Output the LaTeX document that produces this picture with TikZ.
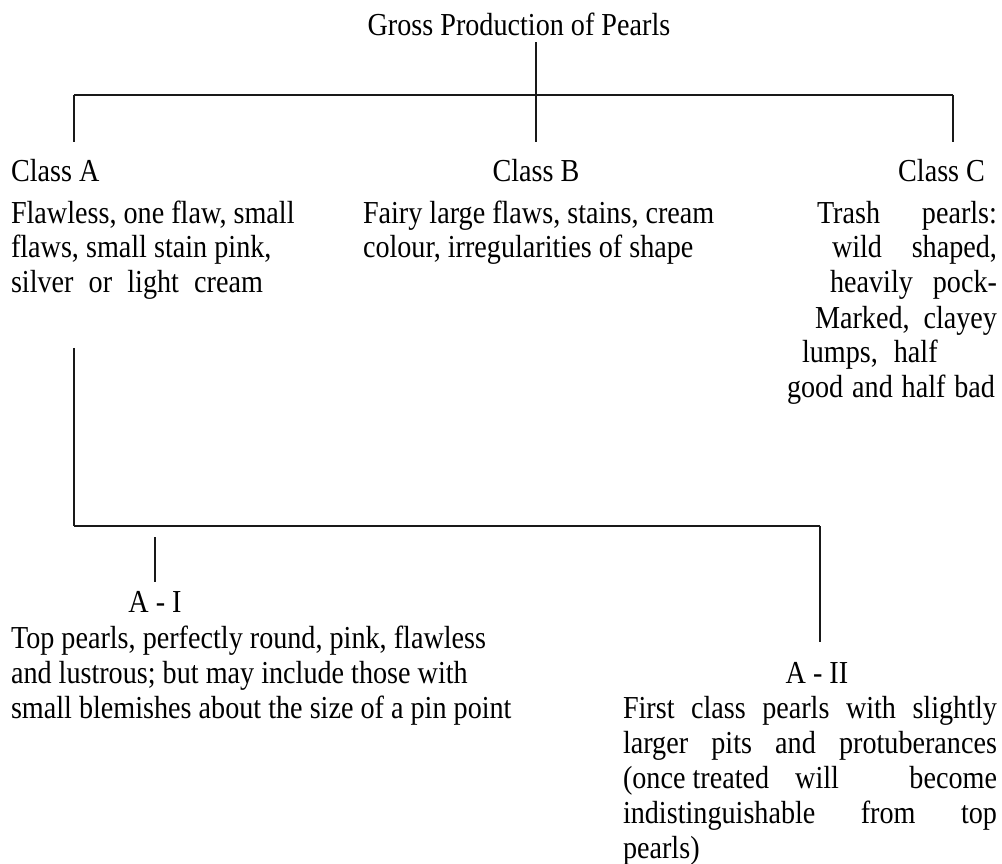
\documentclass[tikz,border=0pt]{standalone}
\usepackage{fontspec}
\setmainfont{Liberation Serif}[FakeStretch=0.88]
% a block of lines; its baseline is that of the first line
\newcommand{\txtblock}[1]{\vtop{\baselineskip=35pt\lineskiplimit=-1000pt\relax #1}}
\begin{document}
\begin{tikzpicture}[x=1pt,y=-1pt,
  every node/.style={inner sep=0pt, outer sep=0pt, font=\fontsize{32pt}{35pt}\selectfont},
  bus/.style={line width=2.6pt, draw=black!90},
  drop/.style={line width=1.8pt, draw=black!90}]
\useasboundingbox[fill=white] (0,0) rectangle (1002,864);

% top level
\node[anchor=base] (title) at (519,36) {Gross Production of Pearls};
\node[anchor=base west] (classA) at (11,182) {Class A};
\node[anchor=base] (classB) at (536,182) {Class B};
\node[anchor=base east] (classC) at (985,182) {Class C};

\node[anchor=base west] (descA) at (11,223) {\txtblock{
  \hbox{Flawless, one flaw, small}
  \hbox{flaws, small stain pink,}
  \hbox to 252pt{silver or light cream}}};
\node[anchor=base west] (descB) at (363,223) {\txtblock{
  \hbox{Fairy large flaws, stains, cream}
  \hbox{colour, irregularities of shape}}};
\node[anchor=base west] (descC) at (787,223) {\txtblock{
  \hbox to 210pt{\hfill\hbox to 180pt{Trash\hfill pearls:}}
  \hbox to 210pt{\hfill\hbox to 165pt{wild\hfill shaped,}}
  \hbox to 210pt{\hfill\hbox to 167pt{heavily\hfill pock-}}
  \hbox to 210pt{\hfill\hbox to 182pt{Marked,\hfill clayey}}
  \hbox to 210pt{\hskip15pt lumps,\hskip16pt half\hfill}
  \hbox to 208pt{good and half bad}}};

% sub-classes of class A
\node[anchor=base] (aI) at (155,612) {A - I};
\node[anchor=base west] (descAI) at (11,648) {\txtblock{
  \hbox{Top pearls, perfectly round, pink, flawless}
  \hbox{and lustrous; but may include those with}
  \hbox{small blemishes about the size of a pin point}}};
\node[anchor=base] (aII) at (817,683) {A - II};
\node[anchor=base west] (descAII) at (623,718) {\txtblock{
  \hbox to 374pt{First class pearls with slightly}
  \hbox to 374pt{larger pits and protuberances}
  \hbox to 374pt{(once treated\hskip26pt will\hfill become}
  \hbox to 374pt{indistinguishable\hfill from\hfill top}
  \hbox{pearls)}}};

% joints of the two brackets
\coordinate (busL) at (74,95);
\coordinate (busR) at (953,95);
\coordinate (subL) at (74,526);
\coordinate (subR) at (820,526);
\coordinate (stub) at (155,537);

% upper bracket
\draw[bus] (busL) -- (busR);
\draw[drop, shorten <=6pt, shorten >=18pt] (title.south -| classB.north) -- (classB.north);
\draw[drop, shorten >=18pt] (busL) -- (busL |- classA.north);
\draw[drop, shorten >=18pt] (busR) -- (busR |- classC.north);

% lower bracket
\draw[drop, shorten <=48pt] (busL |- descA.south) -- (subL);
\draw[bus] (subL) -- (subR);
\draw[drop, shorten >=20pt] (subR) -- (subR |- aII.north);
\draw[drop, shorten >=9pt] (stub) -- (stub |- aI.north);
\end{tikzpicture}
\end{document}
